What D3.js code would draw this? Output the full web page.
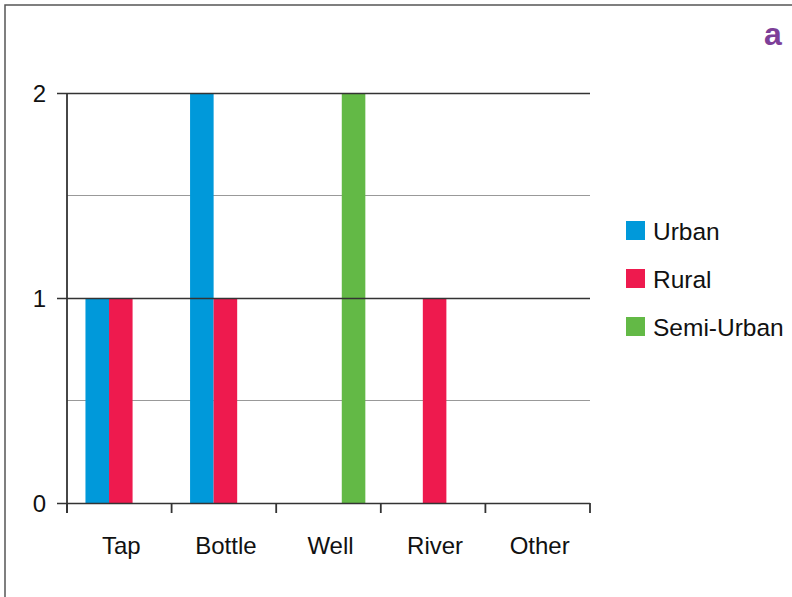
<!DOCTYPE html>
<html>
<head>
<meta charset="utf-8">
<script src="https://cdn.jsdelivr.net/npm/d3@7"></script>
<style>
  html, body { margin: 0; padding: 0; background: #fff; }
  svg { display: block; font-family: "Liberation Sans", Arial, Helvetica, sans-serif; }
</style>
</head>
<body>
<svg id="chart" width="792" height="597"></svg>
<script>
// Water source counts by settlement type
const categories = ["Tap", "Bottle", "Well", "River", "Other"];
const seriesNames = ["Urban", "Rural", "Semi-Urban"];
const urban = [1, 2, 0, 0, 0];
const rural = [1, 1, 0, 1, 0];
const semiUrban = [0, 0, 2, 0, 0];
const yTicks = [0, 1, 2];
const minorTicks = [0.5, 1.5];
const colors = ["#0099da", "#ee1a4e", "#63b946"];

const seriesValues = [urban, rural, semiUrban];

const svg = d3.select("#chart");
const margin = { left: 67, right: 202, top: 93, bottom: 94 };
const W = 792, H = 597;

// frame lines (top and left)
svg.append("path")
  .attr("d", `M5,597 V5 H792`)
  .attr("fill", "none")
  .attr("stroke", "#555")
  .attr("stroke-width", 1.5);

const x = d3.scaleBand()
  .domain(categories)
  .range([margin.left, W - margin.right])
  .paddingInner(0)
  .paddingOuter(0);

const y = d3.scaleLinear()
  .domain([0, 2])
  .range([H - margin.bottom, margin.top]);

const inner = d3.scaleBand()
  .domain(seriesNames)
  .range([0, x.bandwidth()])
  .paddingOuter(0.72)
  .paddingInner(0);

// minor gridlines
svg.append("g").selectAll("line")
  .data(minorTicks)
  .join("line")
  .attr("x1", margin.left).attr("x2", W - margin.right)
  .attr("y1", d => y(d)).attr("y2", d => y(d))
  .attr("stroke", "#999").attr("stroke-width", 1.2);

// bars
const groups = svg.append("g").selectAll("g")
  .data(seriesNames)
  .join("g")
  .attr("fill", (d, i) => colors[i]);

groups.selectAll("rect")
  .data((s, i) => categories.map((c, j) => ({ c, s, v: seriesValues[i][j] })))
  .join("rect")
  .attr("x", d => x(d.c) + inner(d.s) + 1.5)
  .attr("width", inner.bandwidth())
  .attr("y", d => y(d.v))
  .attr("height", d => y(0) - y(d.v));

// major gridlines with left ticks
const yAxis = d3.axisLeft(y)
  .tickValues(yTicks)
  .tickSize(-(W - margin.right - margin.left))
  .tickSizeOuter(0)
  .tickPadding(21)
  .tickFormat(d3.format("d"));

const gy = svg.append("g")
  .attr("transform", `translate(${margin.left},0)`)
  .call(yAxis);
gy.select(".domain").remove();
gy.selectAll(".tick line")
  .attr("x1", -10)
  .attr("stroke", "#333")
  .attr("stroke-width", 1.6);
gy.selectAll(".tick text")
  .attr("font-size", 24)
  .attr("fill", "#111")
  .attr("dy", "0.36em");

// y axis line
svg.append("line")
  .attr("x1", margin.left).attr("x2", margin.left)
  .attr("y1", y(2)).attr("y2", y(0) + 10)
  .attr("stroke", "#333").attr("stroke-width", 1.8);

// x axis with tick marks at band edges
const edges = categories.map(c => x(c)).concat([x(categories[categories.length - 1]) + x.bandwidth()]);
svg.append("g").selectAll("line")
  .data(edges)
  .join("line")
  .attr("x1", d => d).attr("x2", d => d)
  .attr("y1", y(0)).attr("y2", y(0) + 10)
  .attr("stroke", "#333").attr("stroke-width", 1.8);

svg.append("g").selectAll("text")
  .data(categories)
  .join("text")
  .attr("x", d => x(d) + x.bandwidth() / 2 + 2)
  .attr("y", 554)
  .attr("text-anchor", "middle")
  .attr("font-size", 24)
  .attr("fill", "#111")
  .text(d => d);

// legend
const legend = svg.append("g").attr("transform", "translate(626,221)");
const item = legend.selectAll("g")
  .data(seriesNames)
  .join("g")
  .attr("transform", (d, i) => `translate(0,${i * 48})`);
item.append("rect")
  .attr("width", 19).attr("height", 19)
  .attr("fill", (d, i) => colors[i]);
item.append("text")
  .attr("x", 27).attr("y", 18.5)
  .attr("font-size", 24.5)
  .attr("fill", "#111")
  .text(d => d);

// panel letter
svg.append("text")
  .attr("x", 773).attr("y", 45)
  .attr("text-anchor", "middle")
  .attr("font-size", 32)
  .attr("font-weight", "bold")
  .attr("fill", "#7d3f98")
  .text("a");
</script>
</body>
</html>
